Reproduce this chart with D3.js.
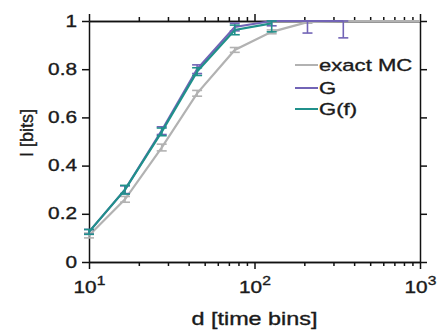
<!doctype html>
<meta charset="utf-8">
<style>
body { margin: 0; background: #fff; }
svg text {
  font-family: "Liberation Sans", Arial, sans-serif;
  fill: #1a1a1a;
  stroke: #1a1a1a;
  stroke-width: 0.35;
}
.axis path, .axis line { stroke: #111; stroke-width: 1.5; }
.wide {
  transform-box: fill-box;
  transform: scaleX(1.3);
}
</style>
<div id="chart"></div>
<script src="https://d3js.org/d3.v7.min.js"></script>
<script>
// data
const dMC = [10, 16.5, 27.5, 45, 76, 127, 209, 344, 570, 1000];
const valMC = [0.11, 0.26, 0.475, 0.70, 0.88, 0.955, 0.995, 1.0, 1.0, 1.0];
const errMC = [0.01, 0.012, 0.014, 0.012, 0.01, 0.008, 0.004, 0, 0, 0];

const dG = [10, 16.5, 27.5, 45, 76, 127, 209, 344];
const valG = [0.125, 0.30, 0.545, 0.80, 0.975, 1.0, 1.0, 1.0];
const errG = [0.01, 0.016, 0.016, 0.018, 0.016, 0.02, 0.05, 0.07];

const dGf = [10, 16.5, 27.5, 45, 76, 127];
const valGf = [0.125, 0.30, 0.54, 0.79, 0.963, 0.99];
const errGf = [0.01, 0.018, 0.016, 0.016, 0.02, 0.035];

const seriesNames = ["exact MC", "G", "G(f)"];
const seriesColors = ["#b2b2b2", "#7264b6", "#20908b"];

const yTicks = [0, 0.2, 0.4, 0.6, 0.8, 1];
const xMajor = [10, 100, 1000];
const xMinor = [20, 30, 40, 50, 60, 70, 80, 90, 200, 300, 400, 500, 600, 700, 800, 900];

const W = 437, H = 331;
const margin = {top: 21, right: 17, bottom: 69, left: 89};
const width = W - margin.left - margin.right,
      height = H - margin.top - margin.bottom;

const svg = d3.select("#chart").append("svg")
  .attr("width", W).attr("height", H);
const g = svg.append("g")
  .attr("transform", "translate(" + margin.left + "," + margin.top + ")");

const x = d3.scaleLog().domain([10, 1000]).range([0, width]);
const y = d3.scaleLinear().domain([0, 1]).range([height, 0]);

// axes
const fmtY = d => d3.format(".1~f")(d);

g.append("g").attr("class", "axis")
  .attr("transform", "translate(0," + height + ")")
  .call(d3.axisBottom(x).tickValues(xMinor).tickSize(4).tickSizeOuter(0).tickFormat(""));
const xAx = g.append("g").attr("class", "axis")
  .attr("transform", "translate(0," + height + ")")
  .call(d3.axisBottom(x).tickValues(xMajor).tickSize(7).tickSizeOuter(0).tickFormat(""));
xAx.selectAll(".tick text").remove();
xAx.selectAll(".tick").append("text")
  .attr("class", "wide")
  .style("transform-origin", "center")
  .attr("y", 31)
  .attr("text-anchor", "middle")
  .style("font-size", "16px")
  .each(function(d) {
    const t = d3.select(this);
    t.append("tspan").text("10");
    t.append("tspan").attr("dy", -8).style("font-size", "12px").text(Math.round(Math.log10(d)));
  });

g.append("g").attr("class", "axis")
  .call(d3.axisTop(x).tickValues(xMinor).tickSize(4).tickSizeOuter(0).tickFormat(""));
g.append("g").attr("class", "axis")
  .call(d3.axisTop(x).tickValues(xMajor).tickSize(7).tickSizeOuter(0).tickFormat(""));

const yAx = g.append("g").attr("class", "axis")
  .call(d3.axisLeft(y).tickValues(yTicks).tickSize(7).tickSizeOuter(0).tickFormat(fmtY));
yAx.selectAll(".tick text")
  .attr("class", "wide")
  .style("transform-origin", "right center")
  .attr("x", -12)
  .style("font-size", "16px");

g.append("g").attr("class", "axis")
  .attr("transform", "translate(" + width + ",0)")
  .call(d3.axisRight(y).tickValues(yTicks).tickSize(7).tickSizeOuter(0).tickFormat(""));

// axis titles
svg.append("text")
  .attr("class", "wide")
  .style("transform-origin", "center")
  .attr("x", margin.left + width / 2)
  .attr("y", 325)
  .attr("text-anchor", "middle")
  .style("font-size", "18px")
  .text("d [time bins]");

svg.append("text")
  .attr("transform", "translate(33,133) rotate(-90)")
  .attr("text-anchor", "middle")
  .style("font-size", "18px")
  .text("I [bits]");

// series
const series = [
  {d: dMC, v: valMC, e: errMC},
  {d: dG, v: valG, e: errG},
  {d: dGf, v: valGf, e: errGf}
];

const line = d3.line().x(p => x(p[0])).y(p => y(p[1]));

series.forEach((s, i) => {
  const pts = s.d.map((d, j) => [d, s.v[j], s.e[j]]);
  const col = seriesColors[i];
  g.append("path")
    .datum(pts)
    .attr("d", line)
    .attr("fill", "none")
    .attr("stroke", col)
    .attr("stroke-width", 2.2);

  const eb = g.append("g").selectAll("g")
    .data(pts.filter(p => p[2] > 0))
    .enter().append("g")
    .attr("stroke", col)
    .attr("stroke-width", 1.6);
  const lo = p => y(Math.max(0, p[1] - p[2]));
  const hi = p => y(Math.min(1, p[1] + p[2]));
  eb.append("line")
    .attr("x1", p => x(p[0])).attr("x2", p => x(p[0]))
    .attr("y1", lo).attr("y2", hi);
  eb.append("line")
    .attr("x1", p => x(p[0]) - 5).attr("x2", p => x(p[0]) + 5)
    .attr("y1", lo).attr("y2", lo);
  eb.append("line")
    .attr("x1", p => x(p[0]) - 5).attr("x2", p => x(p[0]) + 5)
    .attr("y1", hi).attr("y2", hi);
});

// legend
const leg = svg.append("g").attr("transform", "translate(295,65)");
seriesNames.forEach((name, i) => {
  const yy = [0, 23, 44][i];
  leg.append("line")
    .attr("x1", 0).attr("x2", 23)
    .attr("y1", yy).attr("y2", yy)
    .attr("stroke", seriesColors[i])
    .attr("stroke-width", 2);
  leg.append("text")
    .attr("class", "wide")
    .style("transform-origin", "left center")
    .attr("x", 24)
    .attr("y", yy + 6)
    .style("font-size", "17px")
    .text(name);
});
</script>
